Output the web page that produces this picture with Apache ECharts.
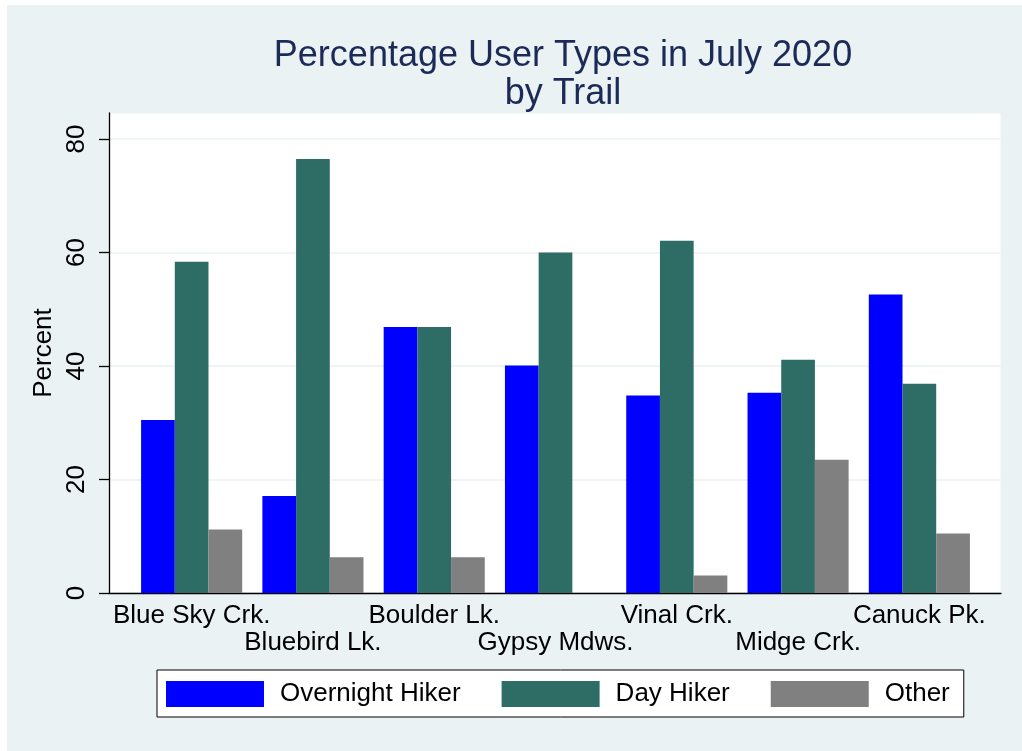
<!DOCTYPE html>
<html>
<head>
<meta charset="utf-8">
<script src="https://cdn.jsdelivr.net/npm/echarts@6/dist/echarts.min.js"></script>
<style>
  html, body { margin: 0; padding: 0; background: #fff; }
  #chart { width: 1022px; height: 751px; }
  #edge {
    position: absolute; left: 0; top: 0; width: 1022px; height: 751px;
    box-sizing: border-box; border-left: 7px solid #fff; border-top: 5px solid #fff;
    pointer-events: none;
  }
</style>
</head>
<body>
<div id="chart"></div>
<div id="edge"></div>
<script>
  // trails and percent values
  const trails = ['Blue Sky Crk.', 'Bluebird Lk.', 'Boulder Lk.', 'Gypsy Mdws.', 'Vinal Crk.', 'Midge Crk.', 'Canuck Pk.'];
  const overnight = [30.5, 17.1, 46.9, 40.1, 34.8, 35.3, 52.6];
  const dayHiker = [58.4, 76.5, 46.9, 60.0, 62.1, 41.1, 36.9];
  const other = [11.2, 6.3, 6.3, 0, 3.1, 23.5, 10.5];
  const yTicks = [0, 20, 40, 60, 80];

  const font = "'Liberation Sans', Arial, sans-serif";
  const bg = '#EAF2F3';

  const mChart = echarts.init(document.getElementById('chart'), null, {renderer: 'canvas'});

  function barSeries(name, data, color) {
    return {
      name: name,
      type: 'bar',
      xAxisIndex: 1,
      yAxisIndex: 1,
      data: data,
      barWidth: 33.7,
      barGap: '0%',
      itemStyle: {color: color},
      emphasis: {disabled: true}
    };
  }

  const option = {
    animation: false,
    backgroundColor: bg,
    textStyle: {fontFamily: font},
    title: {
      text: 'Percentage User Types in July 2020\nby Trail',
      left: 558,
      textAlign: 'center',
      top: 32,
      textStyle: {
        fontFamily: font,
        fontSize: 36,
        fontWeight: 'normal',
        color: '#1B2A56',
        lineHeight: 38
      }
    },
    legend: {
      left: 157,
      top: 670,
      itemWidth: 98,
      itemHeight: 26,
      itemGap: 41,
      icon: 'rect',
      padding: [11, 14, 10, 9],
      backgroundColor: '#fff',
      borderColor: '#000',
      borderWidth: 1,
      textStyle: {fontFamily: font, fontSize: 26, color: '#000', padding: [4, 0, 0, 11]},
      data: ['Overnight Hiker', 'Day Hiker', 'Other']
    },
    grid: [
      {left: 109, right: 21, top: 113, bottom: 158, show: true, backgroundColor: '#fff', borderColor: bg, borderWidth: 1},
      {left: 131, right: 42, top: 113, bottom: 158}
    ],
    xAxis: [
      {
        gridIndex: 0, type: 'value', min: 0, max: 1,
        axisLine: {show: true, lineStyle: {color: '#000', width: 1.3}},
        axisTick: {show: false}, axisLabel: {show: false}, splitLine: {show: false}
      },
      {
        gridIndex: 1, type: 'category', data: trails,
        axisLine: {show: false}, axisTick: {show: false},
        axisLabel: {
          interval: 0,
          margin: 9,
          fontFamily: font,
          fontSize: 26,
          lineHeight: 27,
          color: '#000',
          formatter: function (value, index) {
            return index % 2 === 1 ? '\n' + value : value;
          }
        }
      }
    ],
    yAxis: [
      {
        gridIndex: 0, type: 'value', min: 0, max: 84.6, interval: 20,
        name: 'Percent',
        nameLocation: 'middle',
        nameGap: 52,
        nameMoveOverlap: false,
        nameTextStyle: {fontFamily: font, fontSize: 26, color: '#000'},
        axisLine: {show: true, lineStyle: {color: '#000', width: 1.3}},
        axisTick: {show: true, length: 10, customValues: yTicks, lineStyle: {color: '#000', width: 1.3}},
        axisLabel: {
          rotate: 90,
          margin: 19,
          fontFamily: font,
          fontSize: 26,
          color: '#000',
          customValues: yTicks
        },
        splitLine: {show: true, lineStyle: {color: bg, width: 1.5}}
      },
      {gridIndex: 1, type: 'value', min: 0, max: 84.6, show: false, splitLine: {show: false}}
    ],
    series: [
      barSeries('Overnight Hiker', overnight, '#0000FF'),
      barSeries('Day Hiker', dayHiker, '#2D6D66'),
      barSeries('Other', other, '#808080')
    ]
  };

  mChart.setOption(option);
</script>
</body>
</html>
